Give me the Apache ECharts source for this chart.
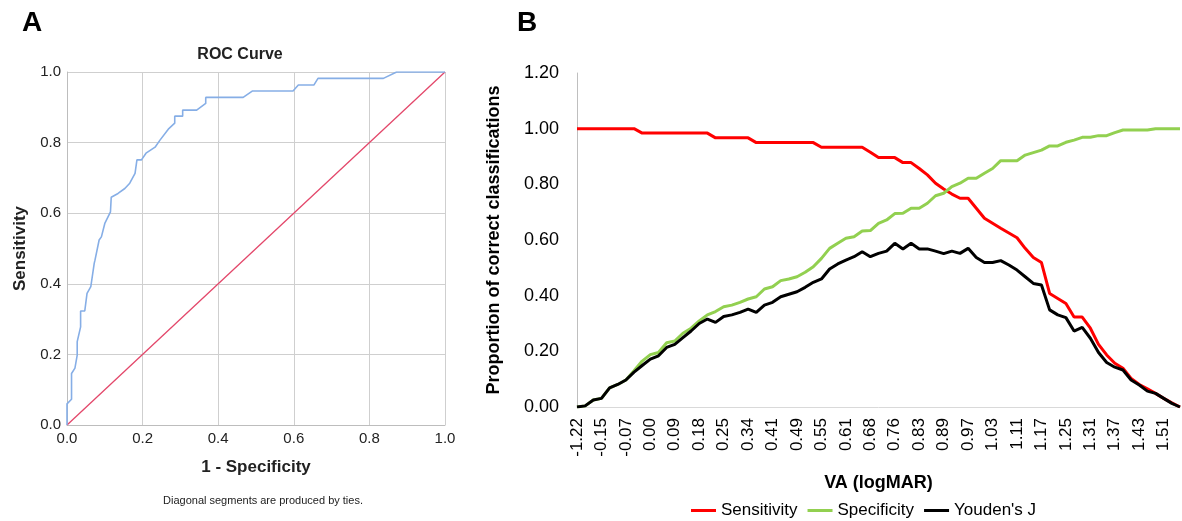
<!DOCTYPE html>
<html>
<head>
<meta charset="utf-8">
<script src="https://cdn.jsdelivr.net/npm/echarts@6/dist/echarts.min.js"></script>
<style>
html,body{margin:0;padding:0;background:#fff;}
#c{width:1182px;height:521px;}
</style>
</head>
<body>
<div id="c"></div>
<script>
// ---------- Panel A: ROC curve ----------
const rocFpr = [0,0,0.012,0.012,0.021,0.027,0.027,0.036,0.036,0.047,0.053,0.063,0.072,0.074,0.085,0.091,0.100,0.115,0.117,0.135,0.153,0.166,0.180,0.185,0.197,0.209,0.233,0.246,0.268,0.285,0.285,0.306,0.306,0.343,0.367,0.367,0.466,0.490,0.598,0.612,0.653,0.664,0.837,0.872,1.0];
const rocTpr = [0,0.060,0.073,0.146,0.161,0.198,0.236,0.278,0.323,0.323,0.373,0.392,0.458,0.467,0.524,0.533,0.571,0.604,0.645,0.656,0.670,0.685,0.713,0.751,0.751,0.770,0.787,0.807,0.838,0.855,0.875,0.875,0.892,0.892,0.911,0.928,0.928,0.946,0.946,0.963,0.963,0.982,0.982,1.0,1.0];
const refX = [0,1];
const refY = [0,1];
const rocTicks = ['0.0','0.2','0.4','0.6','0.8','1.0'];

// ---------- Panel B: classification proportions ----------
const vaCategories = ['-1.22','-0.22','-0.18','-0.15','-0.12','-0.10','-0.07','-0.04','-0.02','0.00','0.03','0.06','0.09','0.12','0.15','0.18','0.20','0.23','0.25','0.28','0.31','0.34','0.36','0.39','0.41','0.44','0.46','0.49','0.51','0.53','0.55','0.57','0.59','0.61','0.63','0.66','0.68','0.71','0.73','0.76','0.78','0.81','0.83','0.85','0.87','0.89','0.92','0.94','0.97','0.99','1.01','1.03','1.06','1.08','1.11','1.13','1.15','1.17','1.20','1.22','1.25','1.27','1.29','1.31','1.33','1.35','1.37','1.39','1.41','1.43','1.46','1.48','1.51','1.55','1.60'];
const sensitivity = [1,1,1,1,1,1,1,1,0.984,0.984,0.984,0.984,0.984,0.984,0.984,0.984,0.984,0.967,0.967,0.967,0.967,0.967,0.95,0.95,0.95,0.95,0.95,0.95,0.95,0.95,0.933,0.933,0.933,0.933,0.933,0.933,0.915,0.896,0.896,0.896,0.878,0.878,0.857,0.834,0.804,0.783,0.765,0.75,0.75,0.714,0.678,0.66,0.642,0.625,0.608,0.570,0.537,0.519,0.408,0.39,0.372,0.323,0.323,0.283,0.225,0.187,0.157,0.139,0.103,0.081,0.065,0.049,0.031,0.015,0];
const specificity = [0,0.004,0.025,0.031,0.069,0.081,0.097,0.13,0.165,0.188,0.196,0.231,0.237,0.265,0.283,0.309,0.331,0.343,0.360,0.366,0.376,0.388,0.396,0.424,0.432,0.454,0.460,0.468,0.484,0.504,0.534,0.570,0.588,0.606,0.612,0.632,0.634,0.660,0.672,0.695,0.696,0.714,0.714,0.732,0.759,0.768,0.792,0.804,0.822,0.822,0.840,0.857,0.885,0.885,0.885,0.905,0.914,0.923,0.938,0.938,0.951,0.959,0.969,0.969,0.975,0.975,0.986,0.995,0.995,0.995,0.995,1,1,1,1];
const youdenJ = [0,0.004,0.025,0.031,0.069,0.081,0.097,0.125,0.149,0.172,0.184,0.214,0.225,0.249,0.273,0.300,0.316,0.304,0.325,0.331,0.340,0.352,0.340,0.366,0.376,0.396,0.405,0.414,0.430,0.448,0.460,0.496,0.514,0.528,0.540,0.558,0.540,0.552,0.560,0.588,0.568,0.588,0.568,0.568,0.560,0.551,0.560,0.552,0.570,0.537,0.519,0.519,0.526,0.510,0.492,0.468,0.444,0.438,0.349,0.331,0.321,0.273,0.286,0.247,0.196,0.160,0.143,0.133,0.097,0.079,0.057,0.049,0.031,0.013,0];
const seriesNames = ['Sensitivity','Specificity',"Youden's J"];

const FONT = 'Liberation Sans, Arial, sans-serif';
const zip = (a,b)=>a.map((v,i)=>[v,b[i]]);

const chart = echarts.init(document.getElementById('c'), null, {renderer:'canvas'});
chart.setOption({
  animation:false,
  backgroundColor:'#fff',
  textStyle:{fontFamily:FONT},
  title:[
    {text:'A', left:17, top:4, textStyle:{fontFamily:FONT,fontSize:28,fontWeight:'bold',color:'#000'}},
    {text:'B', left:512, top:4, textStyle:{fontFamily:FONT,fontSize:28,fontWeight:'bold',color:'#000'}},
    {text:'ROC Curve', left:235, top:42, textAlign:'center', textStyle:{fontFamily:FONT,fontSize:16,fontWeight:'bold',color:'#222'}},
    {text:'Diagonal segments are produced by ties.', left:258, top:490, textAlign:'center', textStyle:{fontFamily:FONT,fontSize:11,fontWeight:'normal',color:'#222'}}
  ],
  legend:{
    data:seriesNames,
    left:686, top:497,
    icon:'rect', itemWidth:25, itemHeight:3, itemGap:10,
    textStyle:{fontFamily:FONT,fontSize:17,color:'#000'}
  },
  grid:[
    {left:67, top:72, width:378, height:353},
    {left:577, top:73, width:603, height:334}
  ],
  xAxis:[
    {gridIndex:0, type:'value', min:0, max:1, interval:0.2,
     name:'1 - Specificity', nameLocation:'middle', nameGap:34,
     nameTextStyle:{fontFamily:FONT,fontSize:17,fontWeight:'bold',color:'#222'},
     axisLine:{show:true,lineStyle:{color:'#bdbdbd',width:1}},
     axisTick:{show:false},
     axisLabel:{fontFamily:FONT,fontSize:15,color:'#222',margin:6,formatter:v=>rocTicks[Math.round(v/0.2)]},
     splitLine:{show:true,lineStyle:{color:'#cfcfcf',width:1}}},
    {gridIndex:1, type:'category', data:vaCategories, boundaryGap:false,
     name:'VA (logMAR)', nameLocation:'middle', nameGap:67,
     nameTextStyle:{fontFamily:FONT,fontSize:18,fontWeight:'bold',color:'#000'},
     axisLine:{show:true,lineStyle:{color:'#d9d9d9',width:1}},
     axisTick:{show:false},
     axisLabel:{interval:2, rotate:90, fontFamily:FONT,fontSize:17,color:'#000',margin:11},
     splitLine:{show:false}}
  ],
  yAxis:[
    {gridIndex:0, type:'value', min:0, max:1, interval:0.2,
     name:'Sensitivity', nameLocation:'middle', nameGap:38,
     nameTextStyle:{fontFamily:FONT,fontSize:17,fontWeight:'bold',color:'#222'},
     axisLine:{show:true,lineStyle:{color:'#bdbdbd',width:1}},
     axisTick:{show:false},
     axisLabel:{fontFamily:FONT,fontSize:15,color:'#222',margin:6,formatter:v=>rocTicks[Math.round(v/0.2)]},
     splitLine:{show:true,lineStyle:{color:'#cfcfcf',width:1}}},
    {gridIndex:1, type:'value', min:0, max:1.2, interval:0.2,
     name:'Proportion of correct classifications', nameLocation:'middle', nameGap:74,
     nameTextStyle:{fontFamily:FONT,fontSize:18,fontWeight:'bold',color:'#000'},
     axisLine:{show:true,lineStyle:{color:'#bfbfbf',width:1}},
     axisTick:{show:false},
     axisLabel:{fontFamily:FONT,fontSize:18,color:'#000',margin:18,formatter:v=>v.toFixed(2)},
     splitLine:{show:false}}
  ],
  series:[
    {type:'line', xAxisIndex:0, yAxisIndex:0, data:zip(refX,refY), symbol:'none',
     lineStyle:{color:'#e3476a',width:1.3}, silent:true},
    {type:'line', xAxisIndex:0, yAxisIndex:0, data:zip(rocFpr,rocTpr), symbol:'none',
     lineStyle:{color:'#86aee6',width:1.6}, silent:true},
    {name:seriesNames[0], type:'line', xAxisIndex:1, yAxisIndex:1, data:sensitivity, symbol:'none',
     itemStyle:{color:'#ff0000'}, lineStyle:{color:'#ff0000',width:3}},
    {name:seriesNames[1], type:'line', xAxisIndex:1, yAxisIndex:1, data:specificity, symbol:'none',
     itemStyle:{color:'#92d050'}, lineStyle:{color:'#92d050',width:3}},
    {name:seriesNames[2], type:'line', xAxisIndex:1, yAxisIndex:1, data:youdenJ, symbol:'none',
     itemStyle:{color:'#000000'}, lineStyle:{color:'#000000',width:3}}
  ]
});
</script>
</body>
</html>
